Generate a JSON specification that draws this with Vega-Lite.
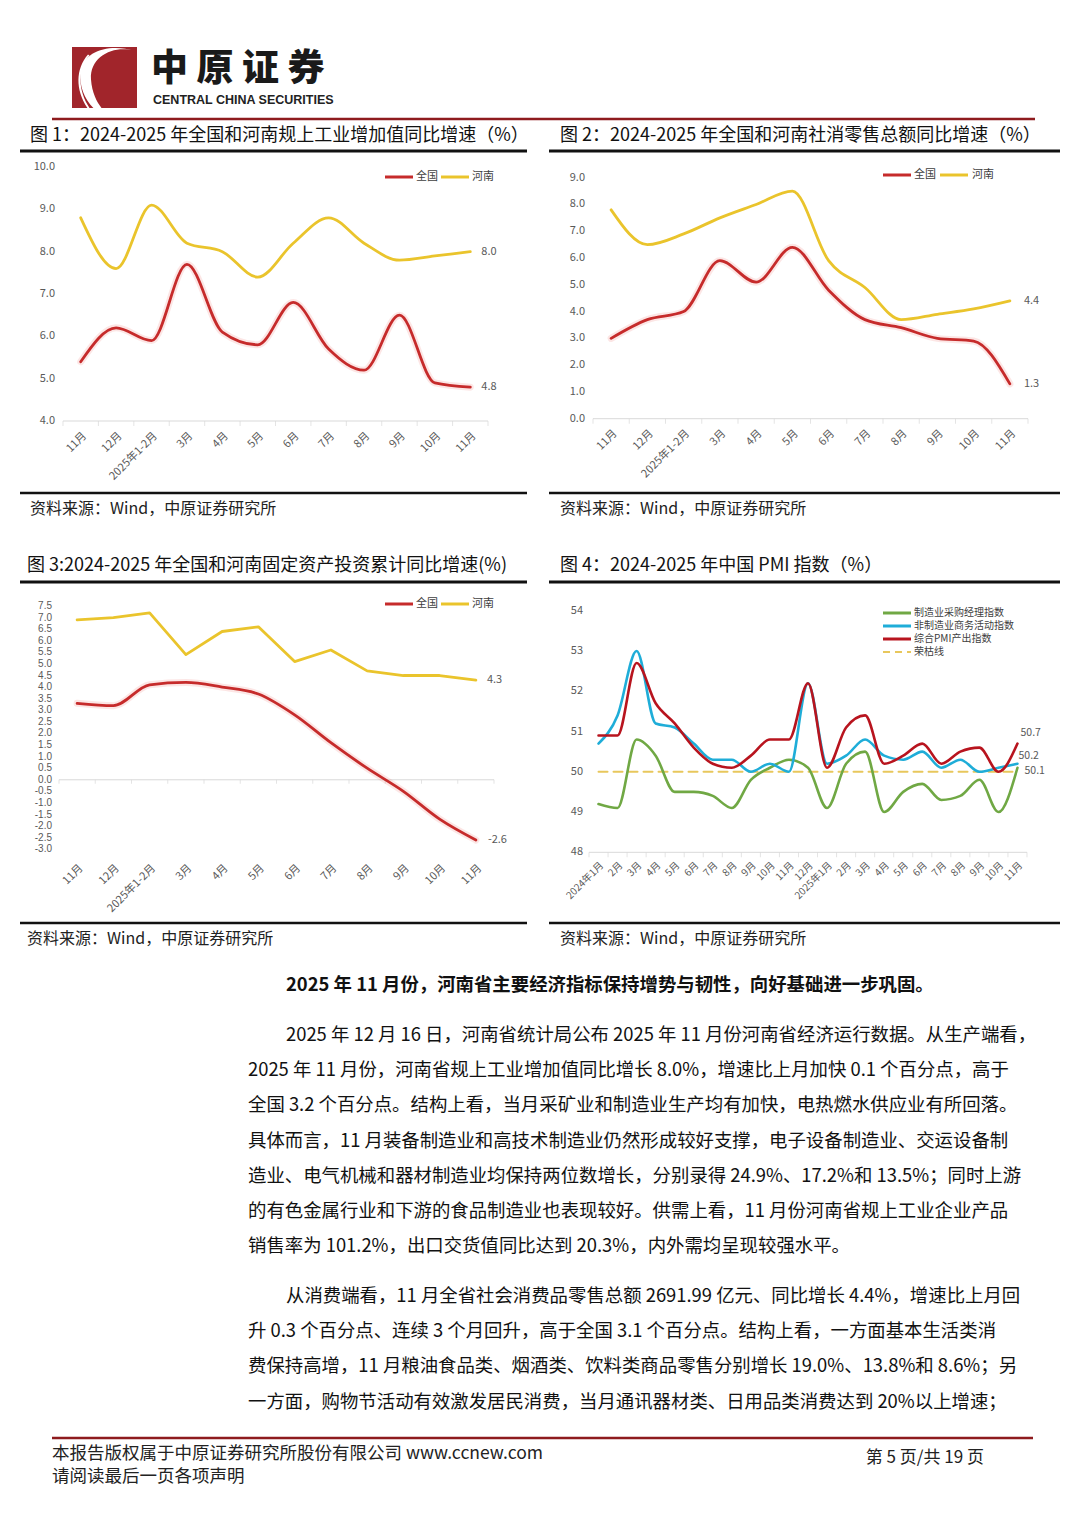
{
 "$schema": "https://vega.github.io/schema/vega-lite/v6.json",
 "background": "white",
 "padding": 0,
 "autosize": {"type": "none"},
 "width": 1080,
 "height": 1527,
 "config": {
  "view": {"stroke": null},
  "font": "Noto Sans CJK SC",
  "text": {"font": "Noto Sans CJK SC"},
  "line": {"strokeCap": "round", "strokeJoin": "round"}
 },
 "resolve": {"scale": {"x": "independent", "y": "independent"}},
 "datasets": {
  "c1_全国": [{"序号": 1, "月份": "11月", "增速": 5.4}, {"序号": 2, "月份": "12月", "增速": 6.2}, {"序号": 3, "月份": "2025年1-2月", "增速": 5.9}, {"序号": 4, "月份": "3月", "增速": 7.7}, {"序号": 5, "月份": "4月", "增速": 6.1}, {"序号": 6, "月份": "5月", "增速": 5.8}, {"序号": 7, "月份": "6月", "增速": 6.8}, {"序号": 8, "月份": "7月", "增速": 5.7}, {"序号": 9, "月份": "8月", "增速": 5.2}, {"序号": 10, "月份": "9月", "增速": 6.5}, {"序号": 11, "月份": "10月", "增速": 4.9}, {"序号": 12, "月份": "11月", "增速": 4.8}],
  "c1_河南": [{"序号": 1, "增速": 8.8}, {"序号": 2, "增速": 7.6}, {"序号": 3, "增速": 9.1}, {"序号": 4, "增速": 8.2}, {"序号": 5, "增速": 8.0}, {"序号": 6, "增速": 7.4}, {"序号": 7, "增速": 8.2}, {"序号": 8, "增速": 8.8}, {"序号": 9, "增速": 8.2}, {"序号": 10, "增速": 7.8}, {"序号": 11, "增速": 7.9}, {"序号": 12, "增速": 8.0}],
  "c2_全国": [{"序号": 1, "月份": "11月", "增速": 3.0}, {"序号": 2, "月份": "12月", "增速": 3.7}, {"序号": 3, "月份": "2025年1-2月", "增速": 4.0}, {"序号": 4, "月份": "3月", "增速": 5.9}, {"序号": 5, "月份": "4月", "增速": 5.1}, {"序号": 6, "月份": "5月", "增速": 6.4}, {"序号": 7, "月份": "6月", "增速": 4.8}, {"序号": 8, "月份": "7月", "增速": 3.7}, {"序号": 9, "月份": "8月", "增速": 3.4}, {"序号": 10, "月份": "9月", "增速": 3.0}, {"序号": 11, "月份": "10月", "增速": 2.9}, {"序号": 12, "月份": "11月", "增速": 1.3}],
  "c2_河南": [{"序号": 1, "增速": 7.8}, {"序号": 2, "增速": 6.5}, {"序号": 3, "增速": 6.9}, {"序号": 4, "增速": 7.5}, {"序号": 5, "增速": 8.0}, {"序号": 6, "增速": 8.5}, {"序号": 7, "增速": 5.9}, {"序号": 8, "增速": 4.9}, {"序号": 9, "增速": 3.7}, {"序号": 10, "增速": 3.9}, {"序号": 11, "增速": 4.1}, {"序号": 12, "增速": 4.4}],
  "c3_全国": [{"序号": 1, "月份": "11月", "增速": 3.3}, {"序号": 2, "月份": "12月", "增速": 3.2}, {"序号": 3, "月份": "2025年1-2月", "增速": 4.1}, {"序号": 4, "月份": "3月", "增速": 4.2}, {"序号": 5, "月份": "4月", "增速": 4.0}, {"序号": 6, "月份": "5月", "增速": 3.7}, {"序号": 7, "月份": "6月", "增速": 2.8}, {"序号": 8, "月份": "7月", "增速": 1.6}, {"序号": 9, "月份": "8月", "增速": 0.5}, {"序号": 10, "月份": "9月", "增速": -0.5}, {"序号": 11, "月份": "10月", "增速": -1.7}, {"序号": 12, "月份": "11月", "增速": -2.6}],
  "c3_河南": [{"序号": 1, "增速": 6.9}, {"序号": 2, "增速": 7.0}, {"序号": 3, "增速": 7.2}, {"序号": 4, "增速": 5.4}, {"序号": 5, "增速": 6.4}, {"序号": 6, "增速": 6.6}, {"序号": 7, "增速": 5.1}, {"序号": 8, "增速": 5.6}, {"序号": 9, "增速": 4.7}, {"序号": 10, "增速": 4.5}, {"序号": 11, "增速": 4.5}, {"序号": 12, "增速": 4.3}],
  "c4_制造业": [{"序号": 1, "月份": "2024年1月", "数值": 49.2}, {"序号": 2, "月份": "2月", "数值": 49.1}, {"序号": 3, "月份": "3月", "数值": 50.8}, {"序号": 4, "月份": "4月", "数值": 50.4}, {"序号": 5, "月份": "5月", "数值": 49.5}, {"序号": 6, "月份": "6月", "数值": 49.5}, {"序号": 7, "月份": "7月", "数值": 49.4}, {"序号": 8, "月份": "8月", "数值": 49.1}, {"序号": 9, "月份": "9月", "数值": 49.8}, {"序号": 10, "月份": "10月", "数值": 50.1}, {"序号": 11, "月份": "11月", "数值": 50.3}, {"序号": 12, "月份": "12月", "数值": 50.1}, {"序号": 13, "月份": "2025年1月", "数值": 49.1}, {"序号": 14, "月份": "2月", "数值": 50.2}, {"序号": 15, "月份": "3月", "数值": 50.5}, {"序号": 16, "月份": "4月", "数值": 49.0}, {"序号": 17, "月份": "5月", "数值": 49.5}, {"序号": 18, "月份": "6月", "数值": 49.7}, {"序号": 19, "月份": "7月", "数值": 49.3}, {"序号": 20, "月份": "8月", "数值": 49.4}, {"序号": 21, "月份": "9月", "数值": 49.8}, {"序号": 22, "月份": "10月", "数值": 49.0}, {"序号": 23, "月份": "11月", "数值": 50.1}],
  "c4_非制造业": [{"序号": 1, "数值": 50.7}, {"序号": 2, "数值": 51.4}, {"序号": 3, "数值": 53.0}, {"序号": 4, "数值": 51.2}, {"序号": 5, "数值": 51.1}, {"序号": 6, "数值": 50.7}, {"序号": 7, "数值": 50.3}, {"序号": 8, "数值": 50.3}, {"序号": 9, "数值": 50.0}, {"序号": 10, "数值": 50.2}, {"序号": 11, "数值": 50.0}, {"序号": 12, "数值": 52.2}, {"序号": 13, "数值": 50.2}, {"序号": 14, "数值": 50.4}, {"序号": 15, "数值": 50.8}, {"序号": 16, "数值": 50.4}, {"序号": 17, "数值": 50.3}, {"序号": 18, "数值": 50.5}, {"序号": 19, "数值": 50.1}, {"序号": 20, "数值": 50.3}, {"序号": 21, "数值": 50.0}, {"序号": 22, "数值": 50.1}, {"序号": 23, "数值": 50.2}],
  "c4_综合": [{"序号": 1, "数值": 50.9}, {"序号": 2, "数值": 50.9}, {"序号": 3, "数值": 52.7}, {"序号": 4, "数值": 51.7}, {"序号": 5, "数值": 51.2}, {"序号": 6, "数值": 50.6}, {"序号": 7, "数值": 50.2}, {"序号": 8, "数值": 50.1}, {"序号": 9, "数值": 50.4}, {"序号": 10, "数值": 50.8}, {"序号": 11, "数值": 50.8}, {"序号": 12, "数值": 52.2}, {"序号": 13, "数值": 50.1}, {"序号": 14, "数值": 51.1}, {"序号": 15, "数值": 51.4}, {"序号": 16, "数值": 50.2}, {"序号": 17, "数值": 50.4}, {"序号": 18, "数值": 50.7}, {"序号": 19, "数值": 50.2}, {"序号": 20, "数值": 50.5}, {"序号": 21, "数值": 50.6}, {"序号": 22, "数值": 50.0}, {"序号": 23, "数值": 50.7}],
  "c4_荣枯线": [{"序号": 1, "数值": 50}, {"序号": 23, "数值": 50}],
  "c1_刻度": [{"刻度": 4}, {"刻度": 5}, {"刻度": 6}, {"刻度": 7}, {"刻度": 8}, {"刻度": 9}, {"刻度": 10}],
  "c2_刻度": [{"刻度": 0}, {"刻度": 1}, {"刻度": 2}, {"刻度": 3}, {"刻度": 4}, {"刻度": 5}, {"刻度": 6}, {"刻度": 7}, {"刻度": 8}, {"刻度": 9}],
  "c3_刻度": [{"刻度": -3, "标签": "-3.0"}, {"刻度": -2.5, "标签": "-2.5"}, {"刻度": -2, "标签": "-2.0"}, {"刻度": -1.5, "标签": "-1.5"}, {"刻度": -1, "标签": "-1.0"}, {"刻度": -0.5, "标签": "-0.5"}, {"刻度": 0, "标签": "0.0"}, {"刻度": 0.5, "标签": "0.5"}, {"刻度": 1, "标签": "1.0"}, {"刻度": 1.5, "标签": "1.5"}, {"刻度": 2, "标签": "2.0"}, {"刻度": 2.5, "标签": "2.5"}, {"刻度": 3, "标签": "3.0"}, {"刻度": 3.5, "标签": "3.5"}, {"刻度": 4, "标签": "4.0"}, {"刻度": 4.5, "标签": "4.5"}, {"刻度": 5, "标签": "5.0"}, {"刻度": 5.5, "标签": "5.5"}, {"刻度": 6, "标签": "6.0"}, {"刻度": 6.5, "标签": "6.5"}, {"刻度": 7, "标签": "7.0"}, {"刻度": 7.5, "标签": "7.5"}],
  "c4_刻度": [{"刻度": 48}, {"刻度": 49}, {"刻度": 50}, {"刻度": 51}, {"刻度": 52}, {"刻度": 53}, {"刻度": 54}]
 },
 "layer": [
  {
   "data": {"values": [{
     "名称": "中 原 证 券", "英文": "CENTRAL CHINA SECURITIES",
     "图1": "图 1：2024-2025 年全国和河南规上工业增加值同比增速（%）",
     "图2": "图 2：2024-2025 年全国和河南社消零售总额同比增速（%）",
     "图3": "图 3:2024-2025 年全国和河南固定资产投资累计同比增速(%)",
     "图4": "图 4：2024-2025 年中国 PMI 指数（%）",
     "来源": "资料来源：Wind，中原证券研究所",
     "全国": "全国", "河南": "河南",
     "例1": "制造业采购经理指数", "例2": "非制造业商务活动指数", "例3": "综合PMI产出指数", "例4": "荣枯线",
     "标题": "2025 年 11 月份，河南省主要经济指标保持增势与韧性，向好基础进一步巩固。",
     "段1": "2025 年 12 月 16 日，河南省统计局公布 2025 年 11 月份河南省经济运行数据。从生产端看，",
     "段2": "从消费端看，11 月全省社会消费品零售总额 2691.99 亿元、同比增长 4.4%，增速比上月回",
     "版权": "本报告版权属于中原证券研究所股份有限公司 www.ccnew.com",
     "声明": "请阅读最后一页各项声明",
     "页码": "第 5 页/共 19 页"
   }]},
   "layer": [
    {"mark": {"type": "rect", "color": "#A1252B"}, "encoding": {"x": {"value": 72}, "x2": {"value": 137}, "y": {"value": 47}, "y2": {"value": 108}}},
    {"mark": {"type": "point", "shape": "M 0.95 -0.9 C 0.3 -1.1 -0.55 -0.75 -0.5 0.05 C -0.47 0.5 -0.3 0.8 -0.15 1 L -0.42 1 C -0.72 0.7 -0.9 0.25 -0.85 -0.2 C -0.75 -0.95 0.2 -1.15 0.95 -0.9 Z", "filled": true, "color": "white", "opacity": 1, "size": 3600}, "encoding": {"x": {"value": 106}, "y": {"value": 78}}},
    {"mark": {"type": "point", "shape": "M -0.55 -0.75 C -0.95 -0.3 -0.95 0.4 -0.55 1 L -0.62 1 C -1.02 0.4 -1.02 -0.3 -0.6 -0.78 Z", "filled": true, "color": "white", "opacity": 1, "size": 3600}, "encoding": {"x": {"value": 106}, "y": {"value": 78}}},
    {"mark": {"type": "text", "align": "left", "baseline": "middle", "fontSize": 37, "fontWeight": 900, "color": "#1a1a1a"}, "encoding": {"x": {"value": 151}, "y": {"value": 70}, "text": {"field": "名称"}}},
    {"mark": {"type": "text", "align": "left", "baseline": "middle", "fontSize": 12.5, "fontWeight": "bold", "font": "Liberation Sans", "color": "#222222"}, "encoding": {"x": {"value": 153}, "y": {"value": 100}, "text": {"field": "英文"}}},
    {"mark": {"type": "rule", "color": "#8E1B1E", "strokeWidth": 2.5}, "encoding": {"x": {"value": 52}, "x2": {"value": 1035}, "y": {"value": 119}}},
    {"mark": {"type": "text", "align": "left", "baseline": "middle", "fontSize": 18, "color": "#111111"}, "encoding": {"x": {"value": 30}, "y": {"value": 136}, "text": {"field": "图1"}}},
    {"mark": {"type": "text", "align": "left", "baseline": "middle", "fontSize": 18, "color": "#111111"}, "encoding": {"x": {"value": 560}, "y": {"value": 136}, "text": {"field": "图2"}}},
    {"mark": {"type": "rule", "color": "#111111", "strokeWidth": 3}, "encoding": {"x": {"value": 20}, "x2": {"value": 527}, "y": {"value": 151}}},
    {"mark": {"type": "rule", "color": "#111111", "strokeWidth": 3}, "encoding": {"x": {"value": 549}, "x2": {"value": 1060}, "y": {"value": 151}}},
    {"mark": {"type": "rule", "color": "#111111", "strokeWidth": 2.5}, "encoding": {"x": {"value": 20}, "x2": {"value": 527}, "y": {"value": 493}}},
    {"mark": {"type": "rule", "color": "#111111", "strokeWidth": 2.5}, "encoding": {"x": {"value": 549}, "x2": {"value": 1060}, "y": {"value": 493}}},
    {"mark": {"type": "text", "align": "left", "baseline": "middle", "fontSize": 16, "color": "#222222"}, "encoding": {"x": {"value": 30}, "y": {"value": 509}, "text": {"field": "来源"}}},
    {"mark": {"type": "text", "align": "left", "baseline": "middle", "fontSize": 16, "color": "#222222"}, "encoding": {"x": {"value": 560}, "y": {"value": 509}, "text": {"field": "来源"}}},
    {"mark": {"type": "text", "align": "left", "baseline": "middle", "fontSize": 18, "color": "#111111"}, "encoding": {"x": {"value": 27}, "y": {"value": 566}, "text": {"field": "图3"}}},
    {"mark": {"type": "text", "align": "left", "baseline": "middle", "fontSize": 18, "color": "#111111"}, "encoding": {"x": {"value": 560}, "y": {"value": 566}, "text": {"field": "图4"}}},
    {"mark": {"type": "rule", "color": "#111111", "strokeWidth": 3}, "encoding": {"x": {"value": 20}, "x2": {"value": 527}, "y": {"value": 582}}},
    {"mark": {"type": "rule", "color": "#111111", "strokeWidth": 3}, "encoding": {"x": {"value": 549}, "x2": {"value": 1060}, "y": {"value": 582}}},
    {"mark": {"type": "rule", "color": "#111111", "strokeWidth": 2.5}, "encoding": {"x": {"value": 20}, "x2": {"value": 527}, "y": {"value": 923}}},
    {"mark": {"type": "rule", "color": "#111111", "strokeWidth": 2.5}, "encoding": {"x": {"value": 549}, "x2": {"value": 1060}, "y": {"value": 923}}},
    {"mark": {"type": "text", "align": "left", "baseline": "middle", "fontSize": 16, "color": "#222222"}, "encoding": {"x": {"value": 27}, "y": {"value": 939}, "text": {"field": "来源"}}},
    {"mark": {"type": "text", "align": "left", "baseline": "middle", "fontSize": 16, "color": "#222222"}, "encoding": {"x": {"value": 560}, "y": {"value": 939}, "text": {"field": "来源"}}},

    {"mark": {"type": "rule", "color": "#C62B2B", "strokeWidth": 3}, "encoding": {"x": {"value": 385}, "x2": {"value": 413}, "y": {"value": 177}}},
    {"mark": {"type": "text", "align": "left", "baseline": "middle", "fontSize": 11, "color": "#404040"}, "encoding": {"x": {"value": 416}, "y": {"value": 177}, "text": {"field": "全国"}}},
    {"mark": {"type": "rule", "color": "#EAC42C", "strokeWidth": 3}, "encoding": {"x": {"value": 441}, "x2": {"value": 469}, "y": {"value": 177}}},
    {"mark": {"type": "text", "align": "left", "baseline": "middle", "fontSize": 11, "color": "#404040"}, "encoding": {"x": {"value": 472}, "y": {"value": 177}, "text": {"field": "河南"}}},
    {"mark": {"type": "rule", "color": "#C62B2B", "strokeWidth": 3}, "encoding": {"x": {"value": 883}, "x2": {"value": 911}, "y": {"value": 175}}},
    {"mark": {"type": "text", "align": "left", "baseline": "middle", "fontSize": 11, "color": "#404040"}, "encoding": {"x": {"value": 914}, "y": {"value": 175}, "text": {"field": "全国"}}},
    {"mark": {"type": "rule", "color": "#EAC42C", "strokeWidth": 3}, "encoding": {"x": {"value": 940}, "x2": {"value": 968}, "y": {"value": 175}}},
    {"mark": {"type": "text", "align": "left", "baseline": "middle", "fontSize": 11, "color": "#404040"}, "encoding": {"x": {"value": 972}, "y": {"value": 175}, "text": {"field": "河南"}}},
    {"mark": {"type": "rule", "color": "#C62B2B", "strokeWidth": 3}, "encoding": {"x": {"value": 385}, "x2": {"value": 413}, "y": {"value": 604}}},
    {"mark": {"type": "text", "align": "left", "baseline": "middle", "fontSize": 11, "color": "#404040"}, "encoding": {"x": {"value": 416}, "y": {"value": 604}, "text": {"field": "全国"}}},
    {"mark": {"type": "rule", "color": "#EAC42C", "strokeWidth": 3}, "encoding": {"x": {"value": 441}, "x2": {"value": 469}, "y": {"value": 604}}},
    {"mark": {"type": "text", "align": "left", "baseline": "middle", "fontSize": 11, "color": "#404040"}, "encoding": {"x": {"value": 472}, "y": {"value": 604}, "text": {"field": "河南"}}},
    {"mark": {"type": "rule", "color": "#70A844", "strokeWidth": 3}, "encoding": {"x": {"value": 883}, "x2": {"value": 911}, "y": {"value": 613}}},
    {"mark": {"type": "text", "align": "left", "baseline": "middle", "fontSize": 10, "color": "#404040"}, "encoding": {"x": {"value": 914}, "y": {"value": 613}, "text": {"field": "例1"}}},
    {"mark": {"type": "rule", "color": "#1FADD8", "strokeWidth": 3}, "encoding": {"x": {"value": 883}, "x2": {"value": 911}, "y": {"value": 626}}},
    {"mark": {"type": "text", "align": "left", "baseline": "middle", "fontSize": 10, "color": "#404040"}, "encoding": {"x": {"value": 914}, "y": {"value": 626}, "text": {"field": "例2"}}},
    {"mark": {"type": "rule", "color": "#B8141E", "strokeWidth": 3}, "encoding": {"x": {"value": 883}, "x2": {"value": 911}, "y": {"value": 639}}},
    {"mark": {"type": "text", "align": "left", "baseline": "middle", "fontSize": 10, "color": "#404040"}, "encoding": {"x": {"value": 914}, "y": {"value": 639}, "text": {"field": "例3"}}},
    {"mark": {"type": "rule", "color": "#E8C75C", "strokeWidth": 2, "strokeDash": [7, 5]}, "encoding": {"x": {"value": 883}, "x2": {"value": 911}, "y": {"value": 652}}},
    {"mark": {"type": "text", "align": "left", "baseline": "middle", "fontSize": 10, "color": "#404040"}, "encoding": {"x": {"value": 914}, "y": {"value": 652}, "text": {"field": "例4"}}},

    {"mark": {"type": "text", "align": "left", "baseline": "middle", "fontSize": 18.4, "fontWeight": "bold", "color": "#111111"}, "encoding": {"x": {"value": 286}, "y": {"value": 985}, "text": {"field": "标题"}}},
    {"mark": {"type": "text", "align": "left", "baseline": "middle", "fontSize": 18.4, "color": "#111111"}, "encoding": {"x": {"value": 286}, "y": {"value": 1035}, "text": {"field": "段1"}}},
    {"mark": {"type": "text", "align": "left", "baseline": "middle", "fontSize": 18.4, "color": "#111111"}, "encoding": {"x": {"value": 286}, "y": {"value": 1296}, "text": {"field": "段2"}}},
    {"mark": {"type": "rule", "color": "#8E1B1E", "strokeWidth": 2.5}, "encoding": {"x": {"value": 52}, "x2": {"value": 1033}, "y": {"value": 1438}}},
    {"mark": {"type": "text", "align": "left", "baseline": "middle", "fontSize": 17.5, "color": "#222222"}, "encoding": {"x": {"value": 52}, "y": {"value": 1454}, "text": {"field": "版权"}}},
    {"mark": {"type": "text", "align": "left", "baseline": "middle", "fontSize": 17.5, "color": "#222222"}, "encoding": {"x": {"value": 52}, "y": {"value": 1477}, "text": {"field": "声明"}}},
    {"mark": {"type": "text", "align": "right", "baseline": "middle", "fontSize": 17, "color": "#222222"}, "encoding": {"x": {"value": 984}, "y": {"value": 1458}, "text": {"field": "页码"}}}
   ]
  },

  {"data": {"values": [{}]}, "mark": {"type": "rule", "color": "#D9D9D9", "strokeWidth": 1}, "encoding": {"x": {"datum": 0.5, "type": "quantitative", "scale": {"domain": [0.5, 12.5], "range": [63, 488], "nice": false, "zero": false}, "axis": null}, "x2": {"datum": 12.5}, "y": {"datum": 4, "type": "quantitative", "scale": {"domain": [4, 10], "range": [421, 167], "nice": false, "zero": false}, "axis": null}}},
  {"data": {"name": "c1_全国"}, "mark": {"type": "tick", "orient": "vertical", "size": 5, "thickness": 1, "color": "#D9D9D9", "xOffset": -17.71, "yOffset": 2.5}, "encoding": {"x": {"field": "序号", "type": "quantitative", "scale": {"domain": [0.5, 12.5], "range": [63, 488], "nice": false, "zero": false}, "axis": null}, "y": {"datum": 4, "type": "quantitative", "scale": {"domain": [4, 10], "range": [421, 167], "nice": false, "zero": false}, "axis": null}}},
  {"data": {"name": "c1_全国"}, "transform": [{"filter": "datum['序号'] == 12"}], "mark": {"type": "tick", "orient": "vertical", "size": 5, "thickness": 1, "color": "#D9D9D9", "xOffset": 17.71, "yOffset": 2.5}, "encoding": {"x": {"field": "序号", "type": "quantitative", "scale": {"domain": [0.5, 12.5], "range": [63, 488], "nice": false, "zero": false}, "axis": null}, "y": {"datum": 4, "type": "quantitative", "scale": {"domain": [4, 10], "range": [421, 167], "nice": false, "zero": false}, "axis": null}}},
  {"data": {"name": "c1_全国"}, "mark": {"type": "text", "angle": 315, "align": "right", "baseline": "top", "fontSize": 11, "color": "#595959", "yOffset": 9}, "encoding": {"x": {"field": "序号", "type": "quantitative", "scale": {"domain": [0.5, 12.5], "range": [63, 488], "nice": false, "zero": false}, "axis": null}, "y": {"datum": 4, "type": "quantitative", "scale": {"domain": [4, 10], "range": [421, 167], "nice": false, "zero": false}, "axis": null}, "text": {"field": "月份"}}},
  {"data": {"name": "c1_刻度"}, "mark": {"type": "text", "align": "right", "baseline": "middle", "fontSize": 11, "color": "#595959", "xOffset": -8}, "encoding": {"x": {"datum": 0.5, "type": "quantitative", "scale": {"domain": [0.5, 12.5], "range": [63, 488], "nice": false, "zero": false}, "axis": null}, "y": {"field": "刻度", "type": "quantitative", "scale": {"domain": [4, 10], "range": [421, 167], "nice": false, "zero": false}, "axis": null}, "text": {"field": "刻度", "format": ".1f"}}},
  {"data": {"name": "c1_河南"}, "mark": {"type": "line", "interpolate": "monotone", "strokeWidth": 2.8, "color": "#EAC42C"}, "encoding": {"x": {"field": "序号", "type": "quantitative", "scale": {"domain": [0.5, 12.5], "range": [63, 488], "nice": false, "zero": false}, "axis": null}, "y": {"field": "增速", "type": "quantitative", "scale": {"domain": [4, 10], "range": [421, 167], "nice": false, "zero": false}, "axis": null}}},
  {"data": {"name": "c1_全国"}, "mark": {"type": "line", "interpolate": "monotone", "strokeWidth": 7, "color": "#E85A50", "opacity": 0.15}, "encoding": {"x": {"field": "序号", "type": "quantitative", "scale": {"domain": [0.5, 12.5], "range": [63, 488], "nice": false, "zero": false}, "axis": null}, "y": {"field": "增速", "type": "quantitative", "scale": {"domain": [4, 10], "range": [421, 167], "nice": false, "zero": false}, "axis": null}}},
  {"data": {"name": "c1_全国"}, "mark": {"type": "line", "interpolate": "monotone", "strokeWidth": 2.8, "color": "#C62B2B"}, "encoding": {"x": {"field": "序号", "type": "quantitative", "scale": {"domain": [0.5, 12.5], "range": [63, 488], "nice": false, "zero": false}, "axis": null}, "y": {"field": "增速", "type": "quantitative", "scale": {"domain": [4, 10], "range": [421, 167], "nice": false, "zero": false}, "axis": null}}},
  {"data": {"name": "c1_全国"}, "transform": [{"filter": "datum['序号'] == 12"}], "mark": {"type": "text", "align": "left", "baseline": "middle", "dx": 11, "fontSize": 11, "color": "#595959"}, "encoding": {"x": {"field": "序号", "type": "quantitative", "scale": {"domain": [0.5, 12.5], "range": [63, 488], "nice": false, "zero": false}, "axis": null}, "y": {"field": "增速", "type": "quantitative", "scale": {"domain": [4, 10], "range": [421, 167], "nice": false, "zero": false}, "axis": null}, "text": {"field": "增速", "format": ".1f"}}},
  {"data": {"name": "c1_河南"}, "transform": [{"filter": "datum['序号'] == 12"}], "mark": {"type": "text", "align": "left", "baseline": "middle", "dx": 11, "fontSize": 11, "color": "#595959"}, "encoding": {"x": {"field": "序号", "type": "quantitative", "scale": {"domain": [0.5, 12.5], "range": [63, 488], "nice": false, "zero": false}, "axis": null}, "y": {"field": "增速", "type": "quantitative", "scale": {"domain": [4, 10], "range": [421, 167], "nice": false, "zero": false}, "axis": null}, "text": {"field": "增速", "format": ".1f"}}},

  {"data": {"values": [{}]}, "mark": {"type": "rule", "color": "#D9D9D9", "strokeWidth": 1}, "encoding": {"x": {"datum": 0.5, "type": "quantitative", "scale": {"domain": [0.5, 12.5], "range": [593, 1028], "nice": false, "zero": false}, "axis": null}, "x2": {"datum": 12.5}, "y": {"datum": 0, "type": "quantitative", "scale": {"domain": [0, 9], "range": [418.7, 177.7], "nice": false, "zero": false}, "axis": null}}},
  {"data": {"name": "c2_全国"}, "mark": {"type": "tick", "orient": "vertical", "size": 5, "thickness": 1, "color": "#D9D9D9", "xOffset": -18.125, "yOffset": 2.5}, "encoding": {"x": {"field": "序号", "type": "quantitative", "scale": {"domain": [0.5, 12.5], "range": [593, 1028], "nice": false, "zero": false}, "axis": null}, "y": {"datum": 0, "type": "quantitative", "scale": {"domain": [0, 9], "range": [418.7, 177.7], "nice": false, "zero": false}, "axis": null}}},
  {"data": {"name": "c2_全国"}, "transform": [{"filter": "datum['序号'] == 12"}], "mark": {"type": "tick", "orient": "vertical", "size": 5, "thickness": 1, "color": "#D9D9D9", "xOffset": 18.125, "yOffset": 2.5}, "encoding": {"x": {"field": "序号", "type": "quantitative", "scale": {"domain": [0.5, 12.5], "range": [593, 1028], "nice": false, "zero": false}, "axis": null}, "y": {"datum": 0, "type": "quantitative", "scale": {"domain": [0, 9], "range": [418.7, 177.7], "nice": false, "zero": false}, "axis": null}}},
  {"data": {"name": "c2_全国"}, "mark": {"type": "text", "angle": 315, "align": "right", "baseline": "top", "fontSize": 11, "color": "#595959", "yOffset": 9}, "encoding": {"x": {"field": "序号", "type": "quantitative", "scale": {"domain": [0.5, 12.5], "range": [593, 1028], "nice": false, "zero": false}, "axis": null}, "y": {"datum": 0, "type": "quantitative", "scale": {"domain": [0, 9], "range": [418.7, 177.7], "nice": false, "zero": false}, "axis": null}, "text": {"field": "月份"}}},
  {"data": {"name": "c2_刻度"}, "mark": {"type": "text", "align": "right", "baseline": "middle", "fontSize": 11, "color": "#595959", "xOffset": -8}, "encoding": {"x": {"datum": 0.5, "type": "quantitative", "scale": {"domain": [0.5, 12.5], "range": [593, 1028], "nice": false, "zero": false}, "axis": null}, "y": {"field": "刻度", "type": "quantitative", "scale": {"domain": [0, 9], "range": [418.7, 177.7], "nice": false, "zero": false}, "axis": null}, "text": {"field": "刻度", "format": ".1f"}}},
  {"data": {"name": "c2_河南"}, "mark": {"type": "line", "interpolate": "monotone", "strokeWidth": 2.8, "color": "#EAC42C"}, "encoding": {"x": {"field": "序号", "type": "quantitative", "scale": {"domain": [0.5, 12.5], "range": [593, 1028], "nice": false, "zero": false}, "axis": null}, "y": {"field": "增速", "type": "quantitative", "scale": {"domain": [0, 9], "range": [418.7, 177.7], "nice": false, "zero": false}, "axis": null}}},
  {"data": {"name": "c2_全国"}, "mark": {"type": "line", "interpolate": "monotone", "strokeWidth": 7, "color": "#E85A50", "opacity": 0.15}, "encoding": {"x": {"field": "序号", "type": "quantitative", "scale": {"domain": [0.5, 12.5], "range": [593, 1028], "nice": false, "zero": false}, "axis": null}, "y": {"field": "增速", "type": "quantitative", "scale": {"domain": [0, 9], "range": [418.7, 177.7], "nice": false, "zero": false}, "axis": null}}},
  {"data": {"name": "c2_全国"}, "mark": {"type": "line", "interpolate": "monotone", "strokeWidth": 2.8, "color": "#C62B2B"}, "encoding": {"x": {"field": "序号", "type": "quantitative", "scale": {"domain": [0.5, 12.5], "range": [593, 1028], "nice": false, "zero": false}, "axis": null}, "y": {"field": "增速", "type": "quantitative", "scale": {"domain": [0, 9], "range": [418.7, 177.7], "nice": false, "zero": false}, "axis": null}}},
  {"data": {"name": "c2_全国"}, "transform": [{"filter": "datum['序号'] == 12"}], "mark": {"type": "text", "align": "left", "baseline": "middle", "dx": 14, "fontSize": 11, "color": "#595959"}, "encoding": {"x": {"field": "序号", "type": "quantitative", "scale": {"domain": [0.5, 12.5], "range": [593, 1028], "nice": false, "zero": false}, "axis": null}, "y": {"field": "增速", "type": "quantitative", "scale": {"domain": [0, 9], "range": [418.7, 177.7], "nice": false, "zero": false}, "axis": null}, "text": {"field": "增速", "format": ".1f"}}},
  {"data": {"name": "c2_河南"}, "transform": [{"filter": "datum['序号'] == 12"}], "mark": {"type": "text", "align": "left", "baseline": "middle", "dx": 14, "fontSize": 11, "color": "#595959"}, "encoding": {"x": {"field": "序号", "type": "quantitative", "scale": {"domain": [0.5, 12.5], "range": [593, 1028], "nice": false, "zero": false}, "axis": null}, "y": {"field": "增速", "type": "quantitative", "scale": {"domain": [0, 9], "range": [418.7, 177.7], "nice": false, "zero": false}, "axis": null}, "text": {"field": "增速", "format": ".1f"}}},

  {"data": {"values": [{}]}, "mark": {"type": "rule", "color": "#D9D9D9", "strokeWidth": 1}, "encoding": {"x": {"datum": 0.5, "type": "quantitative", "scale": {"domain": [0.5, 12.5], "range": [59, 494], "nice": false, "zero": false}, "axis": null}, "x2": {"datum": 12.5}, "y": {"datum": 0, "type": "quantitative", "scale": {"domain": [-3, 7.5], "range": [849.3, 606], "nice": false, "zero": false}, "axis": null}}},
  {"data": {"name": "c3_全国"}, "mark": {"type": "tick", "orient": "vertical", "size": 4, "thickness": 1, "color": "#D9D9D9", "xOffset": -18.125, "yOffset": 2}, "encoding": {"x": {"field": "序号", "type": "quantitative", "scale": {"domain": [0.5, 12.5], "range": [59, 494], "nice": false, "zero": false}, "axis": null}, "y": {"datum": 0, "type": "quantitative", "scale": {"domain": [-3, 7.5], "range": [849.3, 606], "nice": false, "zero": false}, "axis": null}}},
  {"data": {"name": "c3_全国"}, "transform": [{"filter": "datum['序号'] == 12"}], "mark": {"type": "tick", "orient": "vertical", "size": 4, "thickness": 1, "color": "#D9D9D9", "xOffset": 18.125, "yOffset": 2}, "encoding": {"x": {"field": "序号", "type": "quantitative", "scale": {"domain": [0.5, 12.5], "range": [59, 494], "nice": false, "zero": false}, "axis": null}, "y": {"datum": 0, "type": "quantitative", "scale": {"domain": [-3, 7.5], "range": [849.3, 606], "nice": false, "zero": false}, "axis": null}}},
  {"data": {"name": "c3_全国"}, "mark": {"type": "text", "angle": 315, "align": "right", "baseline": "top", "fontSize": 11, "color": "#595959", "yOffset": 13}, "encoding": {"x": {"field": "序号", "type": "quantitative", "scale": {"domain": [0.5, 12.5], "range": [59, 494], "nice": false, "zero": false}, "axis": null}, "y": {"datum": -3, "type": "quantitative", "scale": {"domain": [-3, 7.5], "range": [849.3, 606], "nice": false, "zero": false}, "axis": null}, "text": {"field": "月份"}}},
  {"data": {"name": "c3_刻度"}, "mark": {"type": "text", "align": "right", "baseline": "middle", "fontSize": 10, "font": "Liberation Sans", "color": "#595959", "xOffset": -7}, "encoding": {"x": {"datum": 0.5, "type": "quantitative", "scale": {"domain": [0.5, 12.5], "range": [59, 494], "nice": false, "zero": false}, "axis": null}, "y": {"field": "刻度", "type": "quantitative", "scale": {"domain": [-3, 7.5], "range": [849.3, 606], "nice": false, "zero": false}, "axis": null}, "text": {"field": "标签"}}},
  {"data": {"name": "c3_河南"}, "mark": {"type": "line", "interpolate": "linear", "strokeWidth": 2.8, "color": "#EAC42C"}, "encoding": {"x": {"field": "序号", "type": "quantitative", "scale": {"domain": [0.5, 12.5], "range": [59, 494], "nice": false, "zero": false}, "axis": null}, "y": {"field": "增速", "type": "quantitative", "scale": {"domain": [-3, 7.5], "range": [849.3, 606], "nice": false, "zero": false}, "axis": null}}},
  {"data": {"name": "c3_全国"}, "mark": {"type": "line", "interpolate": "monotone", "strokeWidth": 7, "color": "#E85A50", "opacity": 0.15}, "encoding": {"x": {"field": "序号", "type": "quantitative", "scale": {"domain": [0.5, 12.5], "range": [59, 494], "nice": false, "zero": false}, "axis": null}, "y": {"field": "增速", "type": "quantitative", "scale": {"domain": [-3, 7.5], "range": [849.3, 606], "nice": false, "zero": false}, "axis": null}}},
  {"data": {"name": "c3_全国"}, "mark": {"type": "line", "interpolate": "monotone", "strokeWidth": 2.8, "color": "#C62B2B"}, "encoding": {"x": {"field": "序号", "type": "quantitative", "scale": {"domain": [0.5, 12.5], "range": [59, 494], "nice": false, "zero": false}, "axis": null}, "y": {"field": "增速", "type": "quantitative", "scale": {"domain": [-3, 7.5], "range": [849.3, 606], "nice": false, "zero": false}, "axis": null}}},
  {"data": {"name": "c3_全国"}, "transform": [{"filter": "datum['序号'] == 12"}], "mark": {"type": "text", "align": "left", "baseline": "middle", "dx": 12, "fontSize": 11, "color": "#595959"}, "encoding": {"x": {"field": "序号", "type": "quantitative", "scale": {"domain": [0.5, 12.5], "range": [59, 494], "nice": false, "zero": false}, "axis": null}, "y": {"field": "增速", "type": "quantitative", "scale": {"domain": [-3, 7.5], "range": [849.3, 606], "nice": false, "zero": false}, "axis": null}, "text": {"value": "-2.6"}}},
  {"data": {"name": "c3_河南"}, "transform": [{"filter": "datum['序号'] == 12"}], "mark": {"type": "text", "align": "left", "baseline": "middle", "dx": 11, "fontSize": 11, "color": "#595959"}, "encoding": {"x": {"field": "序号", "type": "quantitative", "scale": {"domain": [0.5, 12.5], "range": [59, 494], "nice": false, "zero": false}, "axis": null}, "y": {"field": "增速", "type": "quantitative", "scale": {"domain": [-3, 7.5], "range": [849.3, 606], "nice": false, "zero": false}, "axis": null}, "text": {"field": "增速", "format": ".1f"}}},

  {"data": {"values": [{}]}, "mark": {"type": "rule", "color": "#D9D9D9", "strokeWidth": 1}, "encoding": {"x": {"datum": 0.5, "type": "quantitative", "scale": {"domain": [0.5, 23.5], "range": [589, 1027], "nice": false, "zero": false}, "axis": null}, "x2": {"datum": 23.5}, "y": {"datum": 48, "type": "quantitative", "scale": {"domain": [48, 54], "range": [852.3, 610.7], "nice": false, "zero": false}, "axis": null}}},
  {"data": {"name": "c4_制造业"}, "mark": {"type": "tick", "orient": "vertical", "size": 5, "thickness": 1, "color": "#D9D9D9", "xOffset": -9.52, "yOffset": 2.5}, "encoding": {"x": {"field": "序号", "type": "quantitative", "scale": {"domain": [0.5, 23.5], "range": [589, 1027], "nice": false, "zero": false}, "axis": null}, "y": {"datum": 48, "type": "quantitative", "scale": {"domain": [48, 54], "range": [852.3, 610.7], "nice": false, "zero": false}, "axis": null}}},
  {"data": {"name": "c4_制造业"}, "transform": [{"filter": "datum['序号'] == 23"}], "mark": {"type": "tick", "orient": "vertical", "size": 5, "thickness": 1, "color": "#D9D9D9", "xOffset": 9.52, "yOffset": 2.5}, "encoding": {"x": {"field": "序号", "type": "quantitative", "scale": {"domain": [0.5, 23.5], "range": [589, 1027], "nice": false, "zero": false}, "axis": null}, "y": {"datum": 48, "type": "quantitative", "scale": {"domain": [48, 54], "range": [852.3, 610.7], "nice": false, "zero": false}, "axis": null}}},
  {"data": {"name": "c4_制造业"}, "mark": {"type": "text", "angle": 315, "align": "right", "baseline": "top", "fontSize": 10, "color": "#595959", "yOffset": 8}, "encoding": {"x": {"field": "序号", "type": "quantitative", "scale": {"domain": [0.5, 23.5], "range": [589, 1027], "nice": false, "zero": false}, "axis": null}, "y": {"datum": 48, "type": "quantitative", "scale": {"domain": [48, 54], "range": [852.3, 610.7], "nice": false, "zero": false}, "axis": null}, "text": {"field": "月份"}}},
  {"data": {"name": "c4_刻度"}, "mark": {"type": "text", "align": "right", "baseline": "middle", "fontSize": 11, "color": "#595959", "xOffset": -6}, "encoding": {"x": {"datum": 0.5, "type": "quantitative", "scale": {"domain": [0.5, 23.5], "range": [589, 1027], "nice": false, "zero": false}, "axis": null}, "y": {"field": "刻度", "type": "quantitative", "scale": {"domain": [48, 54], "range": [852.3, 610.7], "nice": false, "zero": false}, "axis": null}, "text": {"field": "刻度", "format": "d"}}},
  {"data": {"name": "c4_荣枯线"}, "mark": {"type": "line", "interpolate": "linear", "strokeWidth": 2, "color": "#E8C75C", "strokeDash": [9, 6]}, "encoding": {"x": {"field": "序号", "type": "quantitative", "scale": {"domain": [0.5, 23.5], "range": [589, 1027], "nice": false, "zero": false}, "axis": null}, "y": {"field": "数值", "type": "quantitative", "scale": {"domain": [48, 54], "range": [852.3, 610.7], "nice": false, "zero": false}, "axis": null}}},
  {"data": {"name": "c4_制造业"}, "mark": {"type": "line", "interpolate": "monotone", "strokeWidth": 2.6, "color": "#70A844"}, "encoding": {"x": {"field": "序号", "type": "quantitative", "scale": {"domain": [0.5, 23.5], "range": [589, 1027], "nice": false, "zero": false}, "axis": null}, "y": {"field": "数值", "type": "quantitative", "scale": {"domain": [48, 54], "range": [852.3, 610.7], "nice": false, "zero": false}, "axis": null}}},
  {"data": {"name": "c4_非制造业"}, "mark": {"type": "line", "interpolate": "monotone", "strokeWidth": 2.6, "color": "#1FADD8"}, "encoding": {"x": {"field": "序号", "type": "quantitative", "scale": {"domain": [0.5, 23.5], "range": [589, 1027], "nice": false, "zero": false}, "axis": null}, "y": {"field": "数值", "type": "quantitative", "scale": {"domain": [48, 54], "range": [852.3, 610.7], "nice": false, "zero": false}, "axis": null}}},
  {"data": {"name": "c4_综合"}, "mark": {"type": "line", "interpolate": "monotone", "strokeWidth": 2.6, "color": "#B8141E"}, "encoding": {"x": {"field": "序号", "type": "quantitative", "scale": {"domain": [0.5, 23.5], "range": [589, 1027], "nice": false, "zero": false}, "axis": null}, "y": {"field": "数值", "type": "quantitative", "scale": {"domain": [48, 54], "range": [852.3, 610.7], "nice": false, "zero": false}, "axis": null}}},
  {"data": {"name": "c4_综合"}, "transform": [{"filter": "datum['序号'] == 23"}], "mark": {"type": "text", "align": "left", "baseline": "middle", "dx": 3, "dy": -11, "fontSize": 10.5, "color": "#595959"}, "encoding": {"x": {"field": "序号", "type": "quantitative", "scale": {"domain": [0.5, 23.5], "range": [589, 1027], "nice": false, "zero": false}, "axis": null}, "y": {"field": "数值", "type": "quantitative", "scale": {"domain": [48, 54], "range": [852.3, 610.7], "nice": false, "zero": false}, "axis": null}, "text": {"field": "数值", "format": ".1f"}}},
  {"data": {"name": "c4_非制造业"}, "transform": [{"filter": "datum['序号'] == 23"}], "mark": {"type": "text", "align": "left", "baseline": "middle", "dx": 1, "dy": -8, "fontSize": 10.5, "color": "#595959"}, "encoding": {"x": {"field": "序号", "type": "quantitative", "scale": {"domain": [0.5, 23.5], "range": [589, 1027], "nice": false, "zero": false}, "axis": null}, "y": {"field": "数值", "type": "quantitative", "scale": {"domain": [48, 54], "range": [852.3, 610.7], "nice": false, "zero": false}, "axis": null}, "text": {"field": "数值", "format": ".1f"}}},
  {"data": {"name": "c4_制造业"}, "transform": [{"filter": "datum['序号'] == 23"}], "mark": {"type": "text", "align": "left", "baseline": "middle", "dx": 7, "dy": 3, "fontSize": 10.5, "color": "#595959"}, "encoding": {"x": {"field": "序号", "type": "quantitative", "scale": {"domain": [0.5, 23.5], "range": [589, 1027], "nice": false, "zero": false}, "axis": null}, "y": {"field": "数值", "type": "quantitative", "scale": {"domain": [48, 54], "range": [852.3, 610.7], "nice": false, "zero": false}, "axis": null}, "text": {"field": "数值", "format": ".1f"}}},

  {
   "data": {"values": [
    {"行": 2, "文": "2025 年 11 月份，河南省规上工业增加值同比增长 8.0%，增速比上月加快 0.1 个百分点，高于"},
    {"行": 3, "文": "全国 3.2 个百分点。结构上看，当月采矿业和制造业生产均有加快，电热燃水供应业有所回落。"},
    {"行": 4, "文": "具体而言，11 月装备制造业和高技术制造业仍然形成较好支撑，电子设备制造业、交运设备制"},
    {"行": 5, "文": "造业、电气机械和器材制造业均保持两位数增长，分别录得 24.9%、17.2%和 13.5%；同时上游"},
    {"行": 6, "文": "的有色金属行业和下游的食品制造业也表现较好。供需上看，11 月份河南省规上工业企业产品"},
    {"行": 7, "文": "销售率为 101.2%，出口交货值同比达到 20.3%，内外需均呈现较强水平。"}
   ]},
   "mark": {"type": "text", "align": "left", "baseline": "middle", "fontSize": 18.4, "color": "#111111"},
   "encoding": {"x": {"value": 248}, "y": {"field": "行", "type": "quantitative", "scale": {"domain": [2, 7], "range": [1070.2, 1246.2], "nice": false, "zero": false}, "axis": null}, "text": {"field": "文"}}
  },
  {
   "data": {"values": [
    {"行": 2, "文": "升 0.3 个百分点、连续 3 个月回升，高于全国 3.1 个百分点。结构上看，一方面基本生活类消"},
    {"行": 3, "文": "费保持高增，11 月粮油食品类、烟酒类、饮料类商品零售分别增长 19.0%、13.8%和 8.6%；另"},
    {"行": 4, "文": "一方面，购物节活动有效激发居民消费，当月通讯器材类、日用品类消费达到 20%以上增速；"}
   ]},
   "mark": {"type": "text", "align": "left", "baseline": "middle", "fontSize": 18.4, "color": "#111111"},
   "encoding": {"x": {"value": 248}, "y": {"field": "行", "type": "quantitative", "scale": {"domain": [2, 4], "range": [1331.2, 1401.6], "nice": false, "zero": false}, "axis": null}, "text": {"field": "文"}}
  }
 ]
}
